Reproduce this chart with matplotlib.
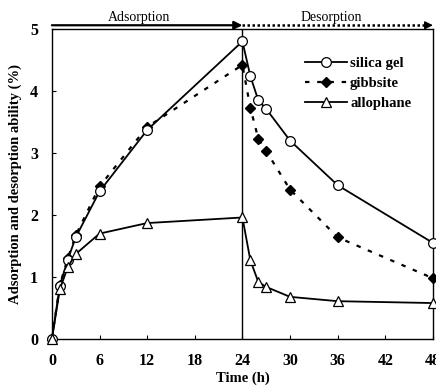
import numpy as np
from matplotlib import pyplot as plt

plt.rcParams['font.family'] = ['Liberation Serif', 'DejaVu Serif']
plt.rcParams['font.weight'] = 'bold'

# time (h) and adsorption/desorption ability (%)
time_h = [0, 1, 2, 3, 6, 12, 24, 25, 26, 27, 30, 36, 48]
silica_gel = [0, 0.86, 1.28, 1.64, 2.38, 3.37, 4.80, 4.24, 3.85, 3.71, 3.20, 2.48, 1.55]
gibbsite = [0, 0.87, 1.30, 1.67, 2.46, 3.42, 4.42, 3.73, 3.23, 3.03, 2.41, 1.64, 0.98]
allophane = [0, 0.80, 1.16, 1.37, 1.70, 1.87, 1.96, 1.27, 0.92, 0.84, 0.68, 0.61, 0.58]

x_ticks = [0, 6, 12, 18, 24, 30, 36, 42, 48]
y_ticks = [0, 1, 2, 3, 4, 5]

fig = plt.figure(figsize=(4.36, 3.89), dpi=100)
ax = fig.add_axes([0.119, 0.1285, 0.874, 0.797])

ax.plot(time_h, silica_gel, color='black', linestyle='-', lw=1.3,
        marker='o', markersize=7, markerfacecolor='white',
        markeredgewidth=0.9, label='silica gel', clip_on=False, zorder=4)
ax.plot(time_h, gibbsite, color='black', linestyle=(0, (2, 3.5)), lw=1.6,
        marker='D', markersize=5.5, markerfacecolor='black',
        label='gibbsite', clip_on=False, zorder=3)
ax.plot(time_h, allophane, color='black', linestyle='-', lw=1.3,
        marker='^', markersize=7.5, markerfacecolor='white',
        markeredgewidth=0.9, label='allophane', clip_on=False, zorder=4)

# boundary between adsorption and desorption
ax.axvline(24, color='black', lw=1.0, zorder=2)

# phase arrows above the plot
ya = 5.06
ax.annotate('', xy=(24, ya), xytext=(0, ya), xycoords='data',
            arrowprops=dict(arrowstyle='-|>', color='black', lw=1.6,
                            mutation_scale=12, shrinkA=0, shrinkB=0),
            annotation_clip=False)
ax.plot([24, 47.2], [ya, ya], color='black', linestyle=(0, (1, 1)), lw=1.8,
        clip_on=False)
ax.annotate('', xy=(48, ya), xytext=(47, ya), xycoords='data',
            arrowprops=dict(arrowstyle='-|>', color='black', lw=1.0,
                            mutation_scale=12, shrinkA=0, shrinkB=0),
            annotation_clip=False)
ax.text(11, ya + 0.02, 'Adsorption', ha='center', va='bottom',
        fontsize=10, fontweight='normal')
ax.text(35.2, ya + 0.02, 'Desorption', ha='center', va='bottom',
        fontsize=10, fontweight='normal')

ax.set_xlim(0, 48)
ax.set_ylim(0, 5)
ax.set_xticks(x_ticks)
ax.set_yticks(y_ticks)
ax.tick_params(direction='in', length=3, labelsize=11.5, width=0.8)
ax.tick_params(axis='x', pad=10)
ax.tick_params(axis='y', pad=10)
for s in ax.spines.values():
    s.set_linewidth(1.0)

ax.set_xlabel('Time (h)', fontsize=10.5, fontweight='bold', labelpad=2)
ax.set_ylabel('Adsorption and desorption ability (%)', fontsize=10.5,
              fontweight='bold', labelpad=6)

ax.legend(loc='upper left', bbox_to_anchor=(0.664, 0.91), frameon=False,
          fontsize=10.5, handlelength=2.9, handletextpad=0.2,
          labelspacing=0.45, borderpad=0, borderaxespad=0)

plt.savefig('out.png', dpi=100)
